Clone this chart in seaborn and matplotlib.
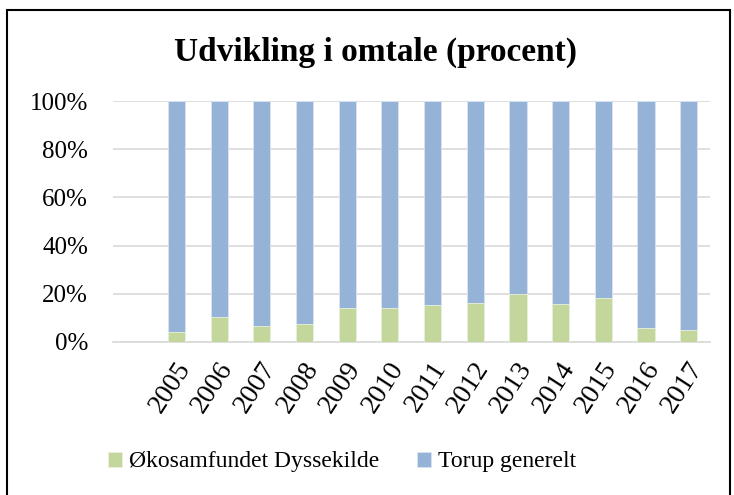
import matplotlib
matplotlib.use("Agg")
import matplotlib.pyplot as plt
import matplotlib.transforms as mtransforms
import seaborn as sns
import pandas as pd
from matplotlib.patches import Rectangle
from matplotlib.ticker import FuncFormatter

years = ["2005", "2006", "2007", "2008", "2009", "2010", "2011",
         "2012", "2013", "2014", "2015", "2016", "2017"]
dysse = [4.1, 10.4, 6.6, 7.3, 14.1, 14.1, 15.5, 16.2, 19.9, 15.8, 18.1, 5.8, 5.0]
torup = [95.9, 89.6, 93.4, 92.7, 85.9, 85.9, 84.5, 83.8, 80.1, 84.2, 81.9, 94.2, 95.0]
series_names = ["Økosamfundet Dyssekilde", "Torup generelt"]
title = "Udvikling i omtale (procent)"

sns.set_theme(style="white")
plt.rcParams["font.family"] = ["Liberation Serif", "DejaVu Serif"]
plt.rcParams["text.color"] = "black"
plt.rcParams["xtick.color"] = "black"
plt.rcParams["ytick.color"] = "black"

green = "#c3d69b"
blue = "#95b3d7"

df = pd.DataFrame({"year": years, "dysse": dysse,
                   "total": [a + b for a, b in zip(dysse, torup)]})

fig = plt.figure(figsize=(7.34, 4.95), dpi=100)
ax = fig.add_axes([113/734, 1-342/495, (710-113)/734, (342-101)/495])

sns.barplot(data=df, x="year", y="total", color=blue, width=0.4,
            ax=ax, saturation=1, label=series_names[1], zorder=2,
            edgecolor="#dbe5f1", linewidth=0.6)
sns.barplot(data=df, x="year", y="dysse", color=green, width=0.4,
            ax=ax, saturation=1, label=series_names[0], zorder=3,
            edgecolor="#ebf1de", linewidth=0.6)
if ax.get_legend() is not None:
    ax.get_legend().remove()

ax.set_xlim(-1.49, 12.5)
ax.set_ylim(0, 100)
ax.set_yticks([0, 20, 40, 60, 80, 100])
ax.yaxis.set_major_formatter(FuncFormatter(lambda v, p: f"{int(v)}%"))
ax.yaxis.grid(True, color="#d9d9d9", linewidth=1.2, zorder=0)
ax.set_axisbelow(True)
ax.set_xlabel("")
ax.set_ylabel("")
for s in ["top", "right", "left"]:
    ax.spines[s].set_visible(False)
ax.spines["bottom"].set_color("#d9d9d9")
ax.spines["bottom"].set_linewidth(1.2)
ax.tick_params(axis="y", labelsize=18, length=0, pad=18, labelcolor="black")
ax.tick_params(axis="x", labelsize=20, length=0, pad=0, labelcolor="black")
offset = mtransforms.ScaledTranslation(-2/100, -15/100, fig.dpi_scale_trans)
for lab in ax.get_xticklabels():
    lab.set_rotation(57)
    lab.set_ha("right")
    lab.set_va("top")
    lab.set_rotation_mode("anchor")
    lab.set_transform(lab.get_transform() + offset)

fig.text(375/734, 1-52/495, title, ha="center", va="center",
         fontsize=24, fontweight="bold", color="black")

h, l = ax.get_legend_handles_labels()
order = [l.index(series_names[0]), l.index(series_names[1])]
fig.legend([h[i] for i in order], [l[i] for i in order],
           loc="center", bbox_to_anchor=(0.466, 1-462/495), ncol=2,
           frameon=False, fontsize=17, handlelength=0.6, handleheight=0.6,
           columnspacing=1.58, handletextpad=0.3, labelcolor="black")

fig.patches.append(Rectangle((7/734, -0.01), (730-7)/734, 1-10/495 + 0.01,
                             transform=fig.transFigure, fill=False,
                             edgecolor="black", linewidth=1.5))

fig.savefig("out.png", dpi=100)
